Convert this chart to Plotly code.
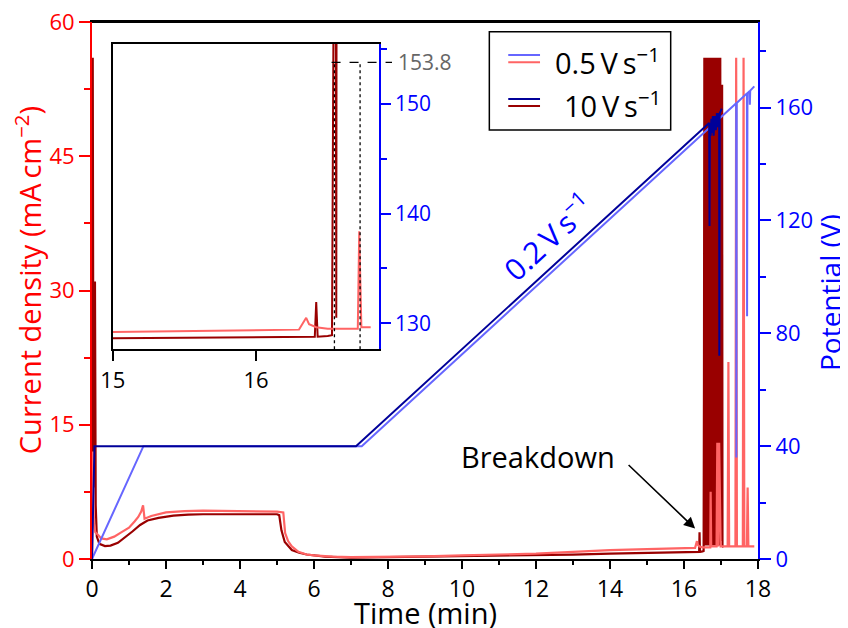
import plotly.graph_objects as go

# ---------------- data ----------------
# current density, 0.5 V/s run (light red)
t_j_slow = [0, 0.02, 0.05, 0.09, 0.16, 0.25, 0.4, 0.6, 0.8, 1.0, 1.15, 1.25, 1.33, 1.38, 1.42,
            1.6, 2.0, 2.5, 3.0, 4.0, 5.0, 5.17, 5.22, 5.3, 5.4, 5.58, 5.8, 6.0, 6.5, 7.0,
            8.0, 9.0, 10.0, 11.0, 12.0, 13.0, 14.0, 15.0, 15.5, 16.0, 16.3, 16.35, 16.37,
            16.42, 16.5, 16.6, 16.71, 16.72, 16.735, 16.8, 16.88, 16.9, 16.92, 16.95, 16.97,
            16.99, 17.18, 17.2, 17.22, 17.39, 17.41, 17.43, 17.59, 17.61, 17.63, 17.70,
            17.72, 17.74, 17.9]
j_slow = [0, 12, 4, 3.0, 2.7, 2.3, 2.2, 2.5, 3.0, 3.5, 4.2, 4.7, 5.3, 6.0, 4.5,
          4.8, 5.2, 5.35, 5.4, 5.35, 5.3, 5.2, 2.9, 2.0, 1.4, 0.8, 0.5, 0.4, 0.26, 0.22,
          0.25, 0.3, 0.4, 0.5, 0.6, 0.8, 1.0, 1.1, 1.15, 1.2, 1.25, 2.0, 1.6,
          1.4, 1.3, 1.3, 1.3, 7.5, 1.4, 1.4, 1.4, 13, 1.4, 13, 1.4,
          1.4, 1.4, 22, 1.4, 1.4, 56, 1.4, 1.4, 56, 1.4, 1.4,
          8, 1.4, 1.4]

# current density, 10 V/s run (dark red)
t_j_fast = [0, 0.02, 0.035, 0.05, 0.08, 0.1, 0.13, 0.2, 0.35, 0.5, 0.7, 0.9, 1.1, 1.3, 1.5,
            1.8, 2.2, 2.6, 3.0, 4.0, 5.0, 5.06, 5.12, 5.21, 5.4, 5.6, 5.8, 6.3, 7.0, 8.0,
            9.0, 10.0, 11.0, 12.0, 13.0, 14.0, 15.0, 15.5, 16.0, 16.3, 16.41, 16.42, 16.43,
            16.5, 16.53, 16.54, 16.55, 16.56, 16.565, 16.575, 16.59, 16.6, 16.615, 16.63,
            16.645, 16.655, 16.68, 16.69, 16.70, 16.71, 16.725, 16.74, 16.755, 16.77,
            16.785, 16.8, 16.815, 16.83, 16.845, 16.86, 16.875, 16.89, 16.905, 16.92,
            16.935, 16.95, 16.965, 16.98, 16.995, 17.01, 17.03, 17.04, 17.06]
j_fast = [0, 56, 20, 8, 31, 6, 2.5, 1.7, 1.45, 1.5, 1.8, 2.4, 3.1, 3.8, 4.3,
          4.6, 4.85, 4.95, 5.0, 5.0, 5.0, 4.9, 3.2, 1.9, 1.0, 0.7, 0.5, 0.26, 0.15, 0.2,
          0.25, 0.3, 0.35, 0.4, 0.5, 0.6, 0.7, 0.72, 0.75, 0.78, 0.8, 3.0, 0.8,
          0.85, 0.9, 20, 56, 2, 56, 54, 1.5, 56, 2, 56,
          1.5, 56, 1.5, 56, 2, 56, 1.5, 56, 2, 56,
          1.5, 56, 2, 56, 1.5, 56, 2, 56, 1.5, 56,
          2, 56, 1.5, 56, 2, 53, 53, 1.5, 1.3]

# potential, 0.5 V/s run (light blue)
t_v_slow = [0, 1.39, 7.29, 16.72, 17.41, 17.415, 17.425, 17.70, 17.705, 17.715, 17.77,
            17.78, 17.79, 17.9]
v_slow = [0, 40, 40, 153.2, 161.5, 36, 161.6, 165, 86, 165.1, 165.8,
          161, 166, 167.5]

# potential, 10 V/s run (dark blue)
t_v_fast = [0, 0.067, 7.135, 16.68, 16.69, 16.70, 16.72, 16.74, 16.76, 16.78, 16.8, 16.83,
            16.86, 16.89, 16.92, 16.95, 16.955, 16.965, 17.0, 17.02]
v_fast = [0, 40, 40, 154.5, 118, 154.6, 150, 156, 151, 157, 150, 157,
          152, 158, 153, 158, 72, 158, 159, 159.6]

# inset: last time shown for each trace and the breakdown markers
inset_end_j_fast = 16.565
inset_end_j_slow = 16.86
inset_end_v_fast = 16.68
inset_end_v_slow = 16.72
breakdown_v = 153.8
breakdown_t = [16.547, 16.726]

x_ticks = [0, 2, 4, 6, 8, 10, 12, 14, 16, 18]
j_ticks = [0, 15, 30, 45, 60]
v_ticks = [0, 40, 80, 120, 160]
inset_x_ticks = [15, 16]
inset_v_ticks = [130, 140, 150]

# ---------------- styling ----------------
FONT = "Open Sans"
C_LR = "#FF6464"
C_DR = "#990000"
C_LB = "#6666FF"
C_DB = "#000099"
RED = "#FF0000"
BLUE = "#0000FF"


def cut(ts, vs, tmin, tmax):
    pairs = [(a, b) for a, b in zip(ts, vs) if tmin - 0.3 <= a <= tmax]
    return [p[0] for p in pairs], [p[1] for p in pairs]


fig = go.Figure()

# main plot
fig.add_trace(go.Scatter(x=t_j_fast, y=j_fast, mode="lines", line=dict(color=C_DR, width=2.2),
                         xaxis="x", yaxis="y", showlegend=False))
fig.add_trace(go.Scatter(x=t_j_slow, y=j_slow, mode="lines", line=dict(color=C_LR, width=2.2),
                         xaxis="x", yaxis="y", showlegend=False))
fig.add_trace(go.Scatter(x=t_v_slow, y=v_slow, mode="lines", line=dict(color=C_LB, width=2),
                         xaxis="x", yaxis="y2", showlegend=False))
fig.add_trace(go.Scatter(x=t_v_fast, y=v_fast, mode="lines", line=dict(color=C_DB, width=2),
                         xaxis="x", yaxis="y2", showlegend=False))

# inset
xi, yi = cut(t_j_fast, j_fast, 15, inset_end_j_fast)
fig.add_trace(go.Scatter(x=xi, y=yi, mode="lines", line=dict(color=C_DR, width=2),
                         xaxis="x3", yaxis="y3", showlegend=False))
xi, yi = cut(t_j_slow, j_slow, 15, inset_end_j_slow)
fig.add_trace(go.Scatter(x=xi, y=yi, mode="lines", line=dict(color=C_LR, width=2),
                         xaxis="x3", yaxis="y3", showlegend=False))
xi, yi = cut(t_v_slow, v_slow, 15, inset_end_v_slow)
fig.add_trace(go.Scatter(x=xi, y=yi, mode="lines", line=dict(color=C_LB, width=2),
                         xaxis="x3", yaxis="y4", showlegend=False))
xi, yi = cut(t_v_fast, v_fast, 15, inset_end_v_fast)
fig.add_trace(go.Scatter(x=xi, y=yi, mode="lines", line=dict(color=C_DB, width=2),
                         xaxis="x3", yaxis="y4", showlegend=False))

axis_common = dict(showgrid=False, zeroline=False, ticks="outside", tickwidth=2,
                   linewidth=2, showline=True, automargin=False, ticklabeloverflow="allow")

inset_x = [0.0311, 0.4305]
inset_y = [0.3905, 0.959]
inset_xr = [15, 16.856]
inset_vr = [127.63, 155.47]

# the page adds an 8 px body margin, so the figure is 8 px smaller than the window
fig.update_layout(
    width=840, height=620,
    margin=dict(l=84, r=90, t=14, b=69, autoexpand=False),
    paper_bgcolor="white", plot_bgcolor="white",
    font=dict(family=FONT, color="black"),
    xaxis=dict(axis_common, range=[0, 18], tickvals=x_ticks, ticklen=8, linecolor="black",
               tickcolor="black", mirror=True, tickfont=dict(size=23, color="black"),
               minor=dict(dtick=1, ticklen=4, tickwidth=2, tickcolor="black", ticks="outside")),
    yaxis=dict(axis_common, range=[0, 60], tickvals=j_ticks, ticklen=11, linecolor=RED,
               tickcolor=RED, tickfont=dict(size=22, color=RED),
               minor=dict(dtick=7.5, ticklen=6, tickwidth=2, tickcolor=RED, ticks="outside")),
    yaxis2=dict(axis_common, range=[0, 190.3], tickvals=v_ticks, ticklen=11, linecolor=BLUE,
                tickcolor=BLUE, tickfont=dict(size=22, color=BLUE), overlaying="y", side="right",
                anchor="x",
                minor=dict(dtick=20, ticklen=6, tickwidth=2, tickcolor=BLUE, ticks="outside")),
    xaxis3=dict(axis_common, domain=inset_x, anchor="y3", range=inset_xr, tickvals=inset_x_ticks,
                ticklen=10, linecolor="black", tickcolor="black", mirror=True,
                tickfont=dict(size=22, color="black")),
    yaxis3=dict(showgrid=False, zeroline=False, domain=inset_y, anchor="x3", range=[0, 19.4],
                showline=True, linecolor="black", linewidth=2, showticklabels=False, ticks="",
                automargin=False),
    yaxis4=dict(axis_common, anchor="x3", overlaying="y3", side="right", range=inset_vr,
                tickvals=inset_v_ticks, ticklen=10, linecolor=BLUE, tickcolor=BLUE,
                tickfont=dict(size=21, color=BLUE),
                minor=dict(tickvals=[135, 145, 155], ticklen=6, tickwidth=2, tickcolor=BLUE,
                           ticks="outside")),
)

# top frame line of the main plot
fig.add_shape(type="line", xref="paper", yref="paper", x0=0, x1=1, y0=1, y1=1,
              line=dict(color="black", width=2))

# axis titles
fig.add_annotation(xref="paper", yref="paper", x=0.5, y=-0.099, text="Time (min)",
                   showarrow=False, xanchor="center", yanchor="middle",
                   font=dict(size=29, color="black"))
fig.add_annotation(xref="paper", yref="paper", x=-0.097, y=0.52,
                   text="Current density (mA\u2009cm<sup>\u22122</sup>)", textangle=-90,
                   showarrow=False, xanchor="center", yanchor="middle",
                   font=dict(size=29, color=RED))
fig.add_annotation(xref="paper", yref="paper", x=1.108, y=0.497, text="Potential (V)",
                   textangle=-90, showarrow=False, xanchor="center", yanchor="middle",
                   font=dict(size=28, color=BLUE))

# breakdown guide lines in the inset
dom_frac = (breakdown_t[0] - 0.02 - inset_xr[0]) / (inset_xr[1] - inset_xr[0])
fig.add_shape(type="line", xref="x3 domain", yref="y4", x0=dom_frac, x1=1.05,
              y0=breakdown_v, y1=breakdown_v, line=dict(color="black", width=1.3, dash="dash"))
for bt in breakdown_t:
    fig.add_shape(type="line", xref="x3", yref="y4", x0=bt, x1=bt, y0=inset_vr[0],
                  y1=breakdown_v, line=dict(color="black", width=1.3, dash="dot"))
fig.add_annotation(xref="x3 domain", yref="y4", x=1.065, y=breakdown_v, text="153.8",
                   showarrow=False, xanchor="left", yanchor="middle",
                   font=dict(size=21, color="#666666"))

# ramp label and breakdown annotation
fig.add_annotation(xref="x", yref="y2", x=12.32, y=114, text="0.2\u2009V\u2009s<sup>\u22121</sup>",
                   showarrow=False, textangle=-42.5, font=dict(size=30, color=BLUE))
fig.add_annotation(xref="x", yref="y", x=12.05, y=11.5, text="Breakdown", showarrow=False,
                   font=dict(size=29, color="black"))
fig.add_annotation(xref="x", yref="y", x=16.3, y=3.4, text="", showarrow=True, ax=-68, ay=-65,
                   axref="pixel", ayref="pixel", arrowhead=2, arrowsize=1.4, arrowwidth=1.6,
                   arrowcolor="black")

# legend (drawn manually: each entry shows potential + current colour)
fig.add_shape(type="rect", xref="paper", yref="paper", x0=0.5966, x1=0.8689, y0=0.7989,
              y1=0.9819, line=dict(color="black", width=1.5), fillcolor="white")
legend_rows = [("0.5\u2009V\u2009s<sup>\u22121</sup>", C_LB, C_LR, 0.9385, 0.925, 0.6917, 0.928),
               ("10\u2009V\u2009s<sup>\u22121</sup>", C_DB, C_DR, 0.8566, 0.8436, 0.7052, 0.848)]
for txt, cb, cr, yb, yr, xt, yt in legend_rows:
    fig.add_shape(type="line", xref="paper", yref="paper", x0=0.625, x1=0.6727, y0=yb, y1=yb,
                  line=dict(color=cb, width=2))
    fig.add_shape(type="line", xref="paper", yref="paper", x0=0.625, x1=0.6727, y0=yr, y1=yr,
                  line=dict(color=cr, width=2))
    fig.add_annotation(xref="paper", yref="paper", x=xt, y=yt, text=txt, showarrow=False,
                       xanchor="left", yanchor="middle", font=dict(size=29, color="black"))

fig.write_html("out.html")
